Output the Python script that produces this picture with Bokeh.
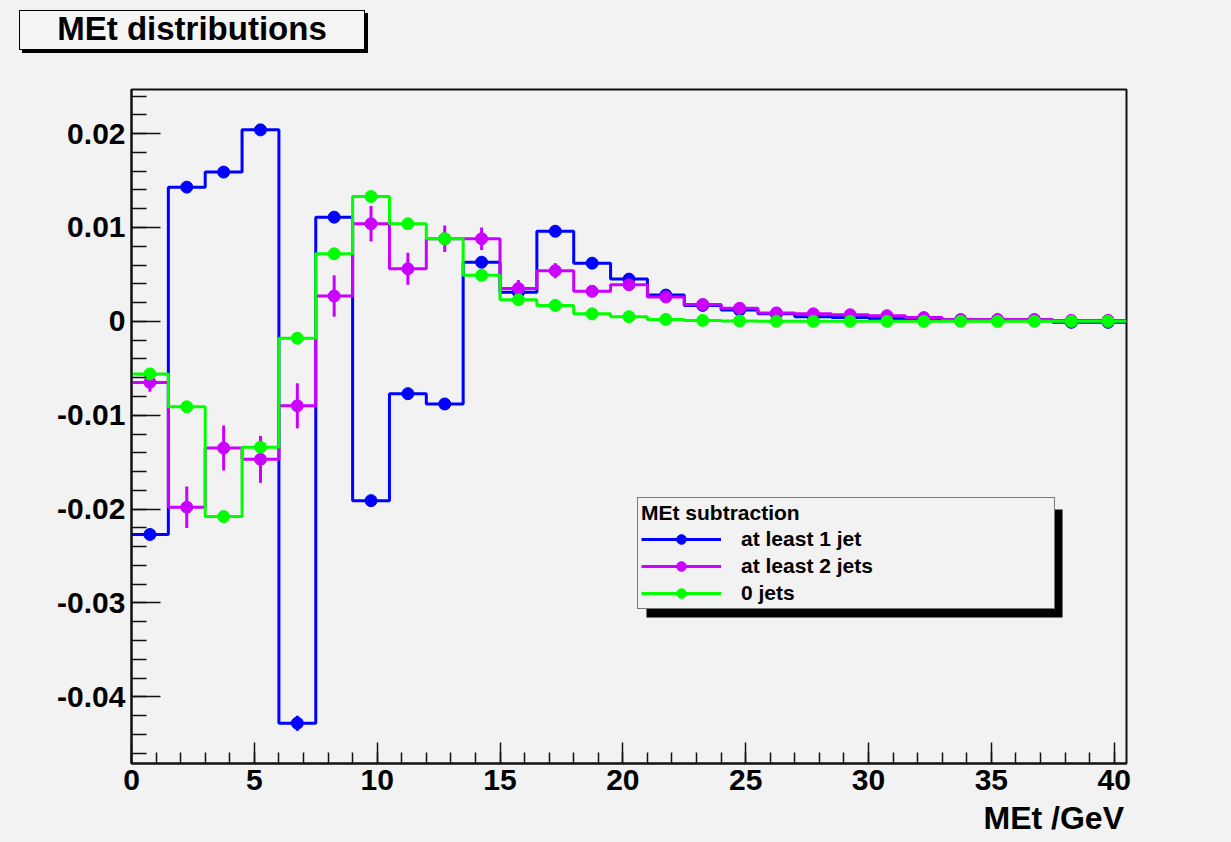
import numpy as np
from bokeh.plotting import figure
from bokeh.layouts import column
from bokeh.models import (ColumnDataSource, Range1d, SingleIntervalTicker, CustomJSTickFormatter,
                          Legend, LegendItem, BoxAnnotation, Div)
from bokeh.embed import file_html
from bokeh.resources import INLINE

# ---------------- data ----------------
bin_edges = [0.0, 1.5, 3.0, 4.5, 6.0, 7.5, 9.0, 10.5, 12.0, 13.5, 15.0, 16.5, 18.0, 19.5,
             21.0, 22.5, 24.0, 25.5, 27.0, 28.5, 30.0, 31.5, 33.0, 34.5, 36.0, 37.5, 39.0, 40.5]

met_1jet = [-0.0227, 0.0143, 0.0159, 0.0204, -0.0428, 0.0111, -0.0191, -0.0077, -0.0088,
            0.0063, 0.0031, 0.0096, 0.0062, 0.0045, 0.0028, 0.0017, 0.0012, 0.0008, 0.0005,
            0.0004, 0.0003, 0.0002, 0.0001, 0.0001, 0.0001, -0.0001, -0.0001]
err_1jet = [0.0004, 0.0004, 0.0004, 0.0005, 0.0008, 0.0004, 0.0004, 0.0003, 0.0003,
            0.0003, 0.0003, 0.0003, 0.0002, 0.0002, 0.0002, 0.0002, 0.0001, 0.0001, 0.0001,
            0.0001, 0.0001, 0.0001, 0.0001, 0.0001, 0.0001, 0.0001, 0.0001]

met_2jet = [-0.0065, -0.0198, -0.0135, -0.0147, -0.0090, 0.0027, 0.0104, 0.0056, 0.0088,
            0.0088, 0.0035, 0.0054, 0.0032, 0.0039, 0.0026, 0.0018, 0.0014, 0.0009, 0.0008,
            0.0007, 0.0006, 0.0004, 0.0002, 0.0002, 0.0002, 0.0001, 0.0001]
err_2jet = [0.0010, 0.0022, 0.0024, 0.0025, 0.0024, 0.0022, 0.0019, 0.0017, 0.0014,
            0.0012, 0.0009, 0.0008, 0.0006, 0.0005, 0.0004, 0.0004, 0.0003, 0.0002, 0.0002,
            0.0002, 0.0002, 0.0002, 0.0002, 0.0002, 0.0002, 0.0002, 0.0002]

met_0jet = [-0.0056, -0.0091, -0.0208, -0.0134, -0.0018, 0.0072, 0.0133, 0.0104, 0.0088,
            0.0049, 0.0023, 0.0017, 0.0008, 0.0005, 0.0002, 0.0001, 0.00005, 0.0, 0.0,
            0.0, 0.0, 0.0, 0.0, 0.0, 0.0, 0.0, 0.0]
err_0jet = [0.0003, 0.0003, 0.0003, 0.0003, 0.0003, 0.0003, 0.0003, 0.0003, 0.0002,
            0.0002, 0.0002, 0.0001, 0.0001, 0.0001, 0.0001, 0.0001, 0.0001, 0.0001, 0.0001,
            0.0001, 0.0001, 0.0001, 0.0001, 0.0001, 0.0001, 0.0001, 0.0001]

series_names = ["at least 1 jet", "at least 2 jets", "0 jets"]
series_colors = ["#0000ff", "#cc00ff", "#00ff00"]
series_values = [met_1jet, met_2jet, met_0jet]
series_errors = [err_1jet, err_2jet, err_0jet]

title_text = "MEt distributions"
legend_title = "MEt subtraction"
x_title = "MEt /GeV"

# ---------------- layout constants (page pixels) ----------------
PAGE_W, PAGE_H = 1231, 842
TOP_H = 56            # title strip height
FRAME_L, FRAME_T, FRAME_W, FRAME_H = 131, 89, 995, 674
BOTTOM_BORDER = 42
X0, X1 = 0.0, 40.5
Y0, Y1 = -0.0471, 0.0247
BG = "#f2f2f2"
FONT = "Liberation Sans"


def dx(px):
    return X0 + (px - FRAME_L) / FRAME_W * (X1 - X0)


def dy(py):
    return Y1 - (py - FRAME_T) / FRAME_H * (Y1 - Y0)


fig_h = (FRAME_T - TOP_H) + FRAME_H + BOTTOM_BORDER
bottom_h = PAGE_H - TOP_H - fig_h

p = figure(frame_width=FRAME_W, frame_height=FRAME_H,
           min_border_left=FRAME_L, min_border_right=PAGE_W - FRAME_L - FRAME_W,
           min_border_top=FRAME_T - TOP_H, min_border_bottom=BOTTOM_BORDER,
           x_range=Range1d(X0, X1), y_range=Range1d(Y0, Y1),
           output_backend="svg", toolbar_location=None,
           background_fill_color=BG, border_fill_color=BG, margin=0)

p.xgrid.grid_line_color = None
p.ygrid.grid_line_color = None
p.outline_line_color = "#111111"
p.outline_line_width = 2

# axes
p.xaxis.ticker = SingleIntervalTicker(interval=5, num_minor_ticks=5)
p.yaxis.ticker = SingleIntervalTicker(interval=0.01, num_minor_ticks=5)
p.yaxis.formatter = CustomJSTickFormatter(code="return String(Math.round(tick*1000)/1000);")
for ax in (p.xaxis[0], p.yaxis[0]):
    ax.axis_line_color = "#111111"
    ax.axis_line_width = 2
    ax.major_tick_line_color = "#111111"
    ax.minor_tick_line_color = "#111111"
    ax.major_tick_line_width = 1.5
    ax.minor_tick_line_width = 1.5
    ax.major_tick_out = 0
    ax.minor_tick_out = 0
    ax.major_label_text_font = FONT
    ax.major_label_text_font_style = "bold"
    ax.major_label_text_font_size = "30px"
    ax.major_label_text_color = "black"
p.xaxis.major_tick_in = 21
p.xaxis.minor_tick_in = 11
p.yaxis.major_tick_in = 29
p.yaxis.minor_tick_in = 15
p.xaxis.major_label_standoff = 6
p.yaxis.major_label_standoff = 6

# histograms
legend_items = []
bg_r = p.line(x=[], y=[], line_color="white", line_width=19)
edges = np.array(bin_edges)
centers = (edges[:-1] + edges[1:]) / 2
for name, color, vals, errs in zip(series_names, series_colors, series_values, series_errors):
    vals = np.array(vals)
    errs = np.array(errs)
    step_src = ColumnDataSource(dict(x=edges, y=np.append(vals, vals[-1])))
    pt_src = ColumnDataSource(dict(x=centers, y=vals, lo=vals - errs, hi=vals + errs))
    r_step = p.step(x="x", y="y", source=step_src, mode="after", line_color=color, line_width=3)
    p.segment(x0="x", y0="lo", x1="x", y1="hi", source=pt_src, line_color=color, line_width=3)
    r_pt = p.scatter(x="x", y="y", source=pt_src, size=12, fill_color=color, line_color=color)
    legend_items.append(LegendItem(label=name, renderers=[bg_r, r_step, r_pt]))

# legend shadow + legend
shadow = BoxAnnotation(left=dx(646), right=dx(1062), top=dy(509), bottom=dy(617),
                       fill_color="black", fill_alpha=1.0, line_color=None)
p.add_layout(shadow)

LEG_PAD, LEG_GLYPH_W, LEG_STANDOFF = 3, 80, 20
legend = Legend(items=legend_items, location=(637 - FRAME_L, FRAME_T + FRAME_H - 609),
                title=legend_title, title_text_font=FONT, title_text_font_style="bold",
                title_text_font_size="21px", title_standoff=2,
                label_text_font=FONT, label_text_font_style="bold", label_text_font_size="21px",
                label_text_color="black", title_text_color="black",
                glyph_width=LEG_GLYPH_W, glyph_height=24, label_height=24,
                label_standoff=LEG_STANDOFF,
                label_width=416 - 2 * LEG_PAD - LEG_GLYPH_W - LEG_STANDOFF,
                spacing=3, padding=LEG_PAD, margin=0,
                background_fill_color=BG, background_fill_alpha=1.0,
                border_line_color="black", border_line_width=1.5)
p.add_layout(legend)

# title box (with ROOT-like drop shadow) and right-aligned x-axis title
title_div = Div(
    text=(f'<div style="position:relative;left:19px;top:10px;width:344px;height:38px;'
          f'line-height:35px;border:1px solid #000;background:#f5f5f5;'
          f'box-shadow:3px 3px 0 #000;text-align:center;font-family:\'{FONT}\';'
          f'font-weight:bold;font-size:33px;color:#000;box-sizing:content-box;">'
          f'{title_text}</div>'),
    width=PAGE_W, height=TOP_H, margin=0, styles={"background-color": BG})

xtitle_div = Div(
    text=(f'<div style="display:block;width:1124px;text-align:right;'
          f'font-family:\'{FONT}\';font-weight:bold;font-size:32px;line-height:26px;'
          f'color:#000;">{x_title}</div>'),
    width=PAGE_W, height=bottom_h, margin=0, styles={"background-color": BG})

layout = column(title_div, p, xtitle_div, spacing=0, styles={"background-color": BG})

open("out.html", "w").write(file_html(layout, INLINE))
